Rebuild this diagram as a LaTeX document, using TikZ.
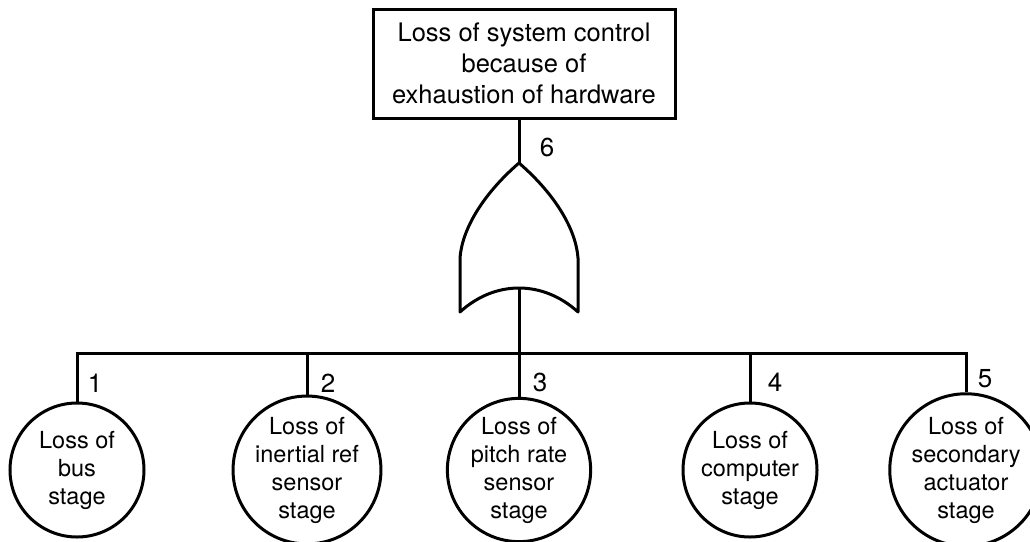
\documentclass[tikz,border=0pt]{standalone}
\usepackage{fontspec}
\setmainfont{TeX Gyre Heros}
\usetikzlibrary{positioning}
\tikzset{every picture/.style={line width=3pt}}
\tikzset{event/.style={draw, circle, minimum size=134pt, inner sep=0pt, align=center,
    font=\fontsize{23.5}{28}\selectfont}}
\tikzset{topevent/.style={draw, rectangle, minimum width=302pt, minimum height=109pt,
    align=center, font=\fontsize{25.5}{31}\selectfont}}
\tikzset{num/.style={font=\fontsize{26}{30}\selectfont, inner sep=0pt}}

\begin{document}
\begin{tikzpicture}[x=1pt, y=-1pt]
  \useasboundingbox (0,0) rectangle (1030,541);

  \node[topevent] (top) at (524,63.5) {Loss of system control\\because of\\exhaustion of hardware};

  \coordinate(gtop) at (519,163);
  \coordinate(gbot) at (519,288);
  \coordinate(bus) at (519,353);

  % or gate
  \draw[line join=round] (gtop) .. controls (482,195) and (462,230) .. (460,258) -- (460,312)
    .. controls (495,280) and (543,280) .. (578,312) -- (578,258)
    .. controls (576,230) and (556,195) .. (gtop) -- cycle;

  \node[event] (e1) at (77,470) {Loss of\\bus\\stage};
  \node[event] (e2) at (307,470) {Loss of\\inertial ref\\sensor\\stage};
  \node[event] (e3) at (519,470) {Loss of\\pitch rate\\sensor\\stage};
  \node[event] (e4) at (750,470) {Loss of\\computer\\stage};
  \node[event] (e5) at (966,470) {Loss of\\secondary\\actuator\\stage};

  \draw (top.south -| gtop) -- (gtop);
  \draw (gbot) -- (bus);
  \draw (e1.north) |- (bus) -| (e5.north);
  \foreach \i in {2,3,4}
    \draw (e\i.north) -- (e\i.north |- bus);

  \node[num] (n6) at (547,147) {6};
  \node[num] (n1) at (95,383) {1};
  \node[num] (n2) at (328,383) {2};
  \node[num] (n3) at (540,382) {3};
  \node[num] (n4) at (775,382) {4};
  \node[num] (n5) at (985,379) {5};

\end{tikzpicture}
\end{document}
